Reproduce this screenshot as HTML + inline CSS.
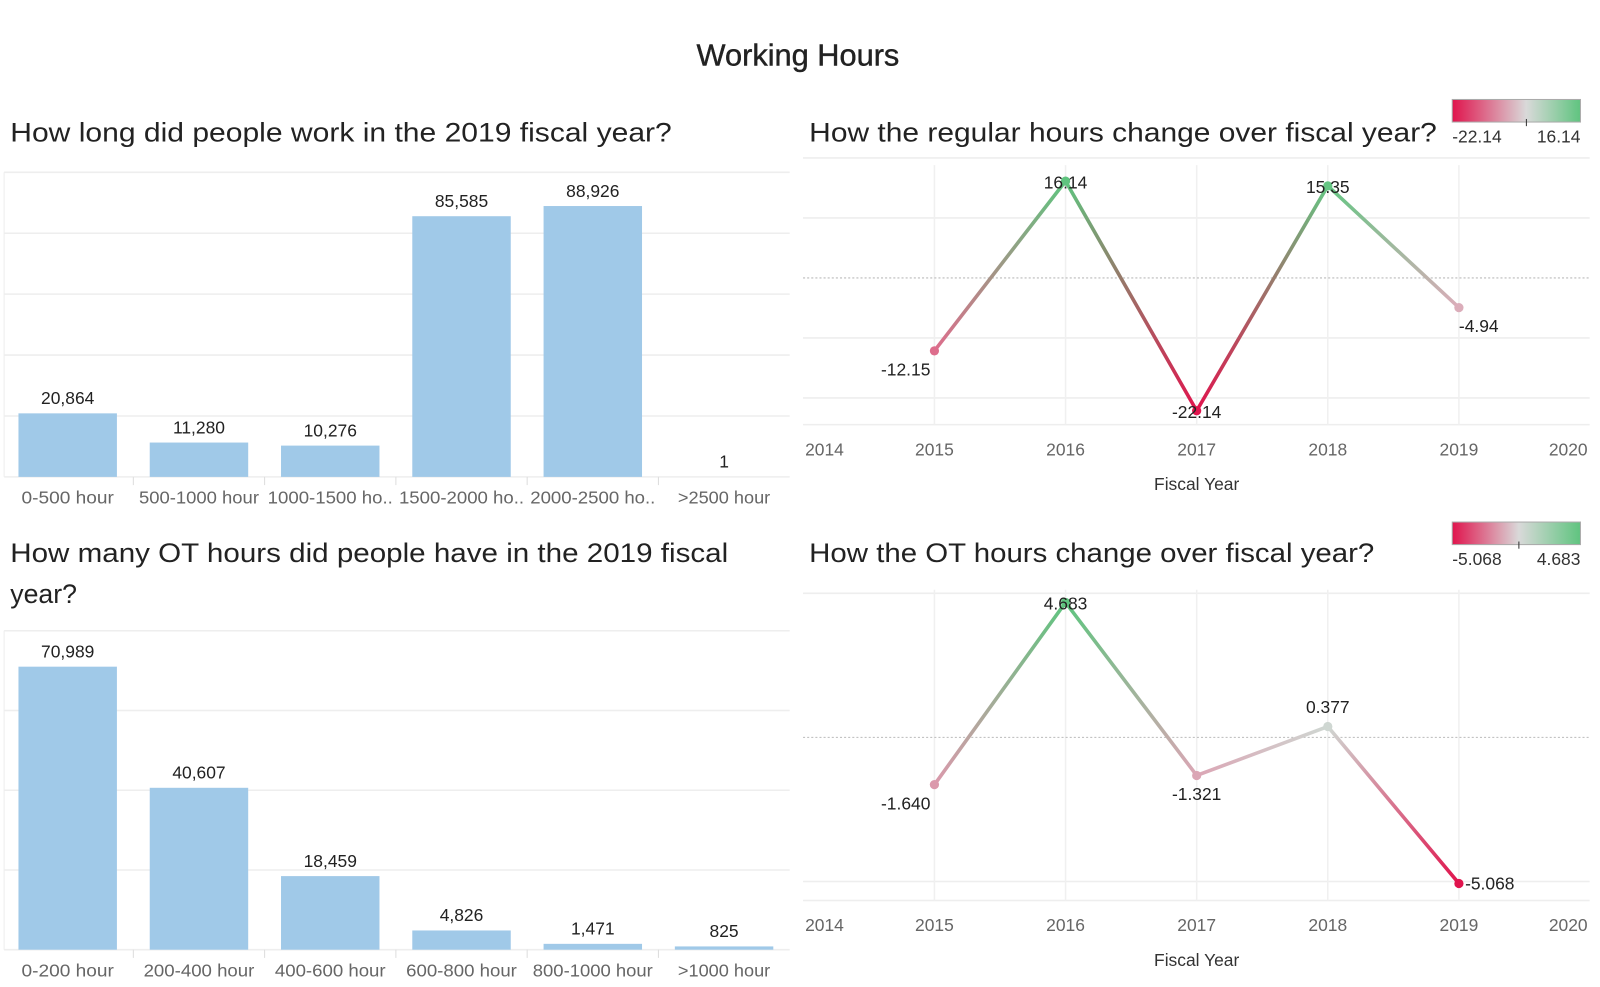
<!DOCTYPE html>
<html><head><meta charset="utf-8">
<style>
html,body{margin:0;padding:0;background:#fff;}
svg{display:block;font-family:"Liberation Sans",sans-serif;}
</style></head>
<body>
<svg id="dash" width="1600" height="987" viewBox="0 0 1600 987">
<g transform="scale(1.0256)">
<text x="778" y="64" text-anchor="middle" font-size="30" fill="#222" stroke="#222" stroke-width="0.4">Working Hours</text>
<text x="10" y="138" font-size="26" fill="#222" textLength="645" lengthAdjust="spacingAndGlyphs">How long did people work in the 2019 fiscal year?</text>
<text x="789" y="138" font-size="26" fill="#222" textLength="612" lengthAdjust="spacingAndGlyphs">How the regular hours change over fiscal year?</text>
<text x="10" y="548" font-size="26" fill="#222" textLength="700" lengthAdjust="spacingAndGlyphs">How many OT hours did people have in the 2019 fiscal</text>
<text x="10" y="588" font-size="26" fill="#222">year?</text>
<text x="789" y="548" font-size="26" fill="#222" textLength="551" lengthAdjust="spacingAndGlyphs">How the OT hours change over fiscal year?</text>
<g id="g"></g>
</g>
</svg>
<script>
// ---- data ----
const hoursCats = ["0-500 hour","500-1000 hour","1000-1500 ho..","1500-2000 ho..","2000-2500 ho..",">2500 hour"];
const hoursVals = [20864, 11280, 10276, 85585, 88926, 1];
const hoursLabels = ["20,864","11,280","10,276","85,585","88,926","1"];
const otCats = ["0-200 hour","200-400 hour","400-600 hour","600-800 hour","800-1000 hour",">1000 hour"];
const otVals = [70989, 40607, 18459, 4826, 1471, 825];
const otLabels = ["70,989","40,607","18,459","4,826","1,471","825"];
const years = [2015, 2016, 2017, 2018, 2019];
const regVals = [-12.15, 16.14, -22.14, 15.35, -4.94];
const regLabels = ["-12.15","16.14","-22.14","15.35","-4.94"];
const otChg = [-1.640, 4.683, -1.321, 0.377, -5.068];
const otChgLabels = ["-1.640","4.683","-1.321","0.377","-5.068"];
const yearTicks = [2014, 2015, 2016, 2017, 2018, 2019, 2020];

const NS = "http://www.w3.org/2000/svg";
const G = document.getElementById('g');
function mk(tag, attrs, parent, txt){
  const e = document.createElementNS(NS, tag);
  for (const k in attrs) e.setAttribute(k, attrs[k]);
  if (txt !== undefined) e.textContent = txt;
  (parent || G).appendChild(e);
  return e;
}
const defs = mk('defs', {});

function barChart(cats, vals, labels, maxV, gridStep, yTop, yBase, prefix){
  const x0 = 4, x1 = 770, step = 128;
  const y = v => yBase - (v / maxV) * (yBase - yTop);
  for (let v = 0; v <= maxV; v += gridStep) {
    const gl = mk('line', {x1:x0, x2:x1, y1:y(v), y2:y(v), stroke:'#eeeeee', 'stroke-width':1.5});
    
    
  }
  mk('line', {x1:x0, x2:x0, y1:yTop, y2:yBase, stroke:'#eee'});
  cats.forEach((c, i) => {
    const cx = 66 + i * step;
    const r = mk('rect', {x:cx - 48, y:y(vals[i]), width:96, height:yBase - y(vals[i]), fill:'#a0c9e8'});
    
    
    const t = mk('text', {x:cx, y:y(vals[i]) - 9, 'text-anchor':'middle', 'font-size':17, fill:'#222'}, G, labels[i]);
    
    
    const ct = mk('text', {x:cx, y:yBase + 26, 'text-anchor':'middle', 'font-size':17, fill:'#666', textLength:Math.min(c.length*9, 122), lengthAdjust:'spacingAndGlyphs'}, G, c);
    
    
    if (i > 0) mk('line', {x1:cx - step/2, x2:cx - step/2, y1:yBase, y2:yBase + 8, stroke:'#ddd'});
  });
}
barChart(hoursCats, hoursVals, hoursLabels, 100000, 20000, 168, 465, 'hours');
barChart(otCats, otVals, otLabels, 80000, 20000, 615, 926, 'ot');

function colorFor(v, mn, mx){
  const red=[224,20,77], mid=[217,217,217], grn=[95,196,127];
  let a, b, t;
  if (v < 0){ a=mid; b=red; t=v/mn; } else { a=mid; b=grn; t=v/mx; }
  t = Math.max(0, Math.min(1, t));
  return 'rgb(' + a.map((c,k)=>Math.round(c+(b[k]-c)*t)).join(',') + ')';
}
let gid = 0;
function lineChart(vals, labels, gridVals, y0v, yPx0, pxPerUnit, plotTop, plotBot, labelPos, prefix, legendY){
  const x = yr => 783.25 + (yr - 2014) * 127.85;
  const y = v => yPx0 - (v - y0v) * pxPerUnit;
  const mn = Math.min(...vals), mx = Math.max(...vals);
  gridVals.forEach(v => {
    const gl = mk('line', {x1:783, x2:1550, y1:y(v), y2:y(v), stroke:'#eeeeee', 'stroke-width':1.5});
    
    
  });
  mk('line', {x1:783, x2:1550, y1:plotBot, y2:plotBot, stroke:'#eee', 'stroke-width':1.5});
  yearTicks.forEach(yr => {
    if (yr > 2014 && yr < 2020) mk('line', {x1:x(yr), x2:x(yr), y1:plotTop, y2:plotBot, stroke:'#f0f0f0', 'stroke-width':1.5});
    const t = mk('text', {x:yr===2014?785:(yr===2020?1548:x(yr)), y:plotBot + 30, 'text-anchor':yr===2014?'start':(yr===2020?'end':'middle'), 'font-size':17, fill:'#666'}, G, String(yr));
    
    
  });
  const zl = mk('line', {x1:783, x2:1550, y1:y(0), y2:y(0), stroke:'#bbb', 'stroke-dasharray':'2,2'});
  
  
  const at = mk('text', {x:x(2017), y:plotBot + 64, 'text-anchor':'middle', 'font-size':17, fill:'#333'}, G, 'Fiscal Year');
  
  
  for (let i = 0; i < vals.length - 1; i++){
    const id = 'lg' + (gid++);
    const lg = mk('linearGradient', {id:id, gradientUnits:'userSpaceOnUse', x1:x(years[i]), y1:y(vals[i]), x2:x(years[i+1]), y2:y(vals[i+1])}, defs);
    mk('stop', {offset:'0', 'stop-color':colorFor(vals[i], mn, mx)}, lg);
    mk('stop', {offset:'1', 'stop-color':colorFor(vals[i+1], mn, mx)}, lg);
    const s = mk('line', {x1:x(years[i]), y1:y(vals[i]), x2:x(years[i+1]), y2:y(vals[i+1]), stroke:'url(#'+id+')', 'stroke-width':3.5, 'stroke-linecap':'round'});
    
    
  }
  vals.forEach((v, i) => {
    const c = mk('circle', {cx:x(years[i]), cy:y(v), r:4.5, fill:colorFor(v, mn, mx)});
    
    
    const p = labelPos[i];
    const t = mk('text', {x:x(years[i]) + p[0], y:y(v) + p[1], 'text-anchor':p[2], 'font-size':17, fill:'#222'}, G, labels[i]);
    
    
  });
  const id = 'leg' + (gid++);
  const lg = mk('linearGradient', {id:id, x1:'0', x2:'1', y1:'0', y2:'0'}, defs);
  const zf = -mn / (mx - mn);
  mk('stop', {offset:'0', 'stop-color':'rgb(224,20,77)'}, lg);
  mk('stop', {offset:zf, 'stop-color':'rgb(217,217,217)'}, lg);
  mk('stop', {offset:'1', 'stop-color':'rgb(95,196,127)'}, lg);
  const lr = mk('rect', {x:1416, y:legendY, width:125, height:22, fill:'url(#'+id+')', stroke:'#aaa'});
  
  
  mk('line', {x1:1416 + 125*zf, x2:1416 + 125*zf, y1:legendY + 19, y2:legendY + 26, stroke:'#333'});
  const l1 = mk('text', {x:1416, y:legendY + 42, 'font-size':17, fill:'#333'}, G, labels[vals.indexOf(mn)]);
  
  
  const l2 = mk('text', {x:1541, y:legendY + 42, 'text-anchor':'end', 'font-size':17, fill:'#333'}, G, labels[vals.indexOf(mx)]);
  
  
}
lineChart(regVals, regLabels, [20, 10, -10, -20], 0, 271, 5.85, 161, 414,
  [[-28,24,'middle'],[0,7,'middle'],[0,7,'middle'],[0,7,'middle'],[0,24,'start']], 'regular', 97);
lineChart(otChg, otChgLabels, [5, -5], 0, 719, 28.1, 575, 878,
  [[-28,24,'middle'],[0,7,'middle'],[0,24,'middle'],[0,-13,'middle'],[6,6,'start']], 'ot-change', 509);
</script>
</body></html>
